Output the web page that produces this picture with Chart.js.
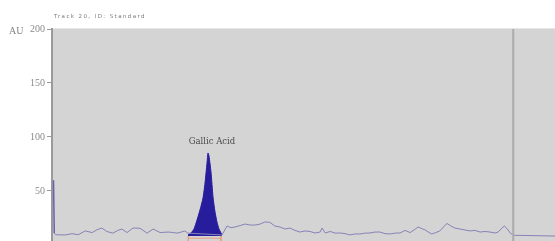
<!DOCTYPE html>
<html>
<head>
<meta charset="utf-8">
<script src="https://cdn.jsdelivr.net/npm/chart.js@4"></script>
<style>
html,body{margin:0;padding:0;background:#fff;overflow:hidden;}
#wrap{width:555px;height:241px;position:relative;}
</style>
</head>
<body>
<div id="wrap"><canvas id="c" width="555" height="241"></canvas></div>
<script>
// Densitogram: x = track position (mm, 0-100), y = absorbance (AU)
const chartTitle = "Track 20, ID: Standard";
const yUnit = "AU";
const yTicks = [50, 100, 150, 200];
const peakName = "Gallic Acid";
const frontX = 91.7;

const traceX = [0.25, 0.3, 0.45, 0.7, 2.6, 4.0, 5.2, 6.6, 8.0, 8.9, 9.9, 10.9, 12.1, 13.1, 13.9, 14.9, 16.1, 17.5, 18.9, 20.1, 21.5, 23.1, 24.1, 25.0, 26.4, 27.0,
  33.8, 34.8, 35.6, 36.4, 37.4, 38.4, 39.4, 40.4, 41.4, 42.3, 43.3, 44.3, 45.3, 46.3, 47.3, 48.3, 49.3, 50.3, 51.3, 52.3, 53.3, 53.7, 54.3, 55.3, 56.3,
  57.3, 58.3, 59.2, 60.2, 61.2, 62.2, 63.2, 64.2, 65.2, 66.2, 67.2, 68.2, 69.2, 70.2, 71.2, 72.0, 72.8, 73.6, 74.2, 74.8, 75.5, 76.3, 77.1, 77.9, 78.5,
  79.3, 80.1, 81.1, 82.1, 83.1, 84.1, 85.1, 86.1, 87.1, 88.1, 88.7, 89.3, 89.9, 90.5, 91.1, 91.7, 100];
const traceY = [58, 60, 11, 9.5, 9.3, 10.5, 9.5, 13, 11.5, 14, 15.7, 12.5, 11, 13.5, 14.8, 11.5, 15.7, 15.5, 11, 14.8, 11.5, 12, 11.5, 11, 13, 11,
  9.3, 17.6, 16, 16.7, 18, 19.4, 18.5, 18.5, 19.4, 21.3, 21, 17.6, 16.7, 14.8, 15.7, 13.5, 12, 13, 12.5, 11.1, 12, 15.7, 11.1, 12.5, 11,
  11.1, 10.5, 9.3, 10.2, 10.2, 11, 11.1, 12, 12, 10.5, 10.2, 11, 11.1, 13.5, 11.5, 14, 16.7, 15, 13.9, 12, 10.2, 11.5, 13, 17, 20,
  17.6, 15.7, 14.8, 13.9, 13, 13.5, 12, 12.5, 12, 11.1, 12, 15, 17.6, 15, 11.1, 9, 8.3];

const peakX = [27.04, 27.63, 28.23, 28.83, 29.42, 30.02, 30.42, 30.82, 31.01, 31.21, 31.61, 32.01, 32.41, 32.80, 33.20, 33.60, 33.80];
const peakY = [9.3, 11.1, 14.8, 23.1, 32.4, 43.5, 57.4, 75.9, 85.2, 82.4, 67.6, 44.4, 30.6, 21.3, 14.8, 11.1, 9.3];

const markX = [27.1, 33.6];

const pts = (xs, ys) => xs.map((x, i) => ({x: x, y: ys[i]}));
const yMin = 3.7, yMax = 200;

const markData = [
  {x: markX[0], y: 8.3}, {x: markX[0], y: yMin},
  {x: markX[0], y: 6.3}, {x: markX[1], y: 6.3},
  {x: markX[1], y: 8.3}, {x: markX[1], y: yMin}
];

const deco = {
  id: 'deco',
  beforeDraw(chart) {
    const {ctx, chartArea: a} = chart;
    ctx.save();
    ctx.fillStyle = '#d4d4d4';
    ctx.fillRect(a.left, a.top, a.right - a.left, a.bottom - a.top);
    ctx.fillStyle = '#e6e6e6';
    ctx.fillRect(a.left, a.top - 1, a.right - a.left, 1);
    ctx.restore();
  },
  afterDraw(chart) {
    const {ctx, scales: {x, y}} = chart;
    ctx.save();
    ctx.fillStyle = '#7a7a7a';
    ctx.font = '5.5px "DejaVu Sans"';
    ctx.letterSpacing = '1.4px';
    ctx.textBaseline = 'middle';
    ctx.fillText(chartTitle, 54, 17);
    ctx.letterSpacing = '0px';
    ctx.fillStyle = '#858585';
    ctx.font = '10px "Liberation Serif"';
    ctx.textAlign = 'left';
    ctx.fillText(yUnit, 9, y.getPixelForValue(200) + 2);
    // peak label
    let mi = 0;
    peakY.forEach((v, i) => { if (v > peakY[mi]) mi = i; });
    ctx.fillStyle = '#4a4a4a';
    ctx.font = '8.5px "DejaVu Serif"';
    ctx.textAlign = 'center';
    ctx.fillText(peakName, x.getPixelForValue(peakX[mi]) + 4, y.getPixelForValue(peakY[mi]) - 11);
    ctx.restore();
  }
};

new Chart(document.getElementById('c'), {
  type: 'line',
  data: {
    datasets: [
      {data: [{x: frontX, y: yMin}, {x: frontX, y: yMax}], borderColor: '#ababab', borderWidth: 2, pointRadius: 0, fill: false},
      {data: pts(traceX, traceY), borderColor: '#8683b6', borderWidth: 1, pointRadius: 0, fill: false, tension: 0,
        segment: {borderColor: c => (c.p0DataIndex < 2 ? '#6a5fb0' : undefined), borderWidth: c => (c.p0DataIndex < 2 ? 1.5 : undefined)}},
      {data: pts(peakX, peakY), borderColor: '#261c9c', backgroundColor: '#261c9c', borderWidth: 1, pointRadius: 0, fill: {value: 8.3}, tension: 0.2},
      {data: markData, borderColor: '#e8a080', borderWidth: 1, pointRadius: 0, fill: false, segment: {borderColor: c => (c.p0DataIndex % 2 === 1 ? 'transparent' : undefined)}}
    ]
  },
  options: {
    responsive: false,
    animation: false,
    events: [],
    layout: {padding: {top: 29, left: 0, right: 0, bottom: 0}},
    plugins: {legend: {display: false}, tooltip: {enabled: false}, title: {display: false}},
    scales: {
      x: {type: 'linear', min: 0, max: 100, display: false},
      y: {
        type: 'linear', min: yMin, max: yMax,
        afterFit(s) { s.width = 52; s.paddingTop = 0; s.paddingBottom = 0; },
        afterBuildTicks(s) { s.ticks = yTicks.map(v => ({value: v})); },
        grid: {drawOnChartArea: false, drawTicks: true, tickLength: 5, color: '#9a9a9a'},
        border: {display: true, color: '#9a9a9a', width: 2},
        ticks: {color: '#8a8a8a', font: {family: 'Liberation Serif', size: 10}, padding: 2}
      }
    }
  },
  plugins: [deco]
});
</script>
</body>
</html>
